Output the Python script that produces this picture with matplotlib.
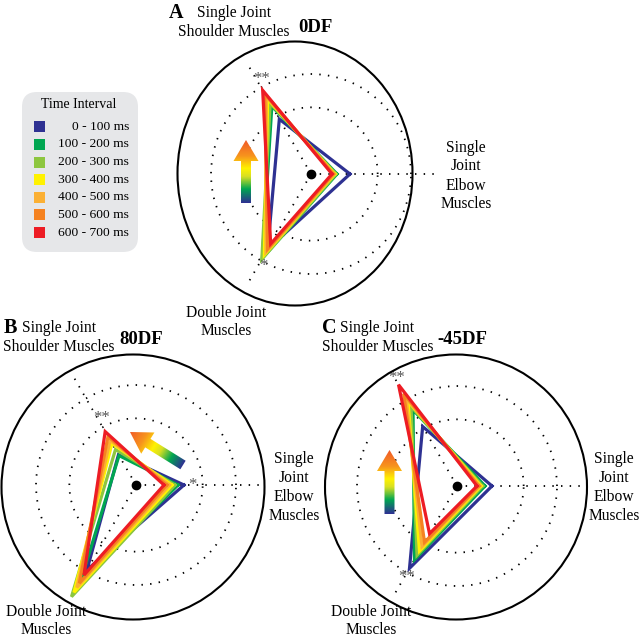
import numpy as np
import matplotlib
matplotlib.use("Agg")
import matplotlib.pyplot as plt
from matplotlib.patches import Ellipse, Polygon, FancyBboxPatch, Rectangle
from matplotlib.colors import LinearSegmentedColormap

plt.rcParams['font.family'] = ['Liberation Serif', 'DejaVu Serif']

# time intervals (legend) and colours
intervals = ['0 - 100 ms', '100 - 200 ms', '200 - 300 ms', '300 - 400 ms',
             '400 - 500 ms', '500 - 600 ms', '600 - 700 ms']
colors = ['#2e3192', '#00a651', '#8dc63f', '#fff200', '#fbb034', '#f58220', '#ed1c24']

# axis directions (deg): elbow, shoulder, double joint
axis_deg = [0, 120, 240]

# panel A : 0DF
a_elbow    = [1.17, 0.78, 0.75, 0.71, 0.69, 0.67, 0.63]
a_shoulder = [1.90, 2.35, 2.45, 2.60, 2.68, 2.78, 2.90]
a_double   = [2.60, 2.92, 2.95, 2.80, 2.70, 2.60, 2.42]
# panel B : 80DF
b_elbow    = [1.44, 1.26, 1.17, 1.08, 1.00, 0.92, 0.84]
b_shoulder = [1.05, 1.02, 1.23, 1.44, 1.55, 1.68, 1.85]
b_double   = [2.94, 3.30, 3.87, 3.72, 3.55, 3.40, 3.12]
# panel C : -45DF
c_elbow    = [1.05, 0.84, 0.77, 0.72, 0.68, 0.65, 0.60]
c_shoulder = [2.06, 2.64, 2.76, 2.94, 3.05, 3.20, 3.51]
c_double   = [2.85, 2.55, 2.40, 2.25, 2.10, 1.95, 1.65]

W, H = 640, 639
UNIT = 33.33   # px per radial unit
RMAX = 3.8
R = RMAX * UNIT

fig = plt.figure(figsize=(6.4, 6.39), dpi=100)


def radar(cx, cy, elbow, shoulder, double, stars):
    ax = fig.add_axes([(cx - R) / W, 1 - (cy + R) / H, 2 * R / W, 2 * R / H],
                      projection='polar')
    ax.patch.set_visible(False)
    ax.spines['polar'].set_visible(False)
    ax.set_rlim(0, RMAX)
    ax.set_thetagrids(axis_deg, labels=['', '', ''])
    ax.set_rgrids([2, 3], labels=['', ''])
    ax.grid(True, color='k', linewidth=1.3, linestyle=(0, (0.8, 4.0)))
    th = np.radians(axis_deg + [axis_deg[0]])
    for i in range(len(colors)):
        r = [elbow[i], shoulder[i], double[i], elbow[i]]
        ax.plot(th, r, color=colors[i], lw=2.3, solid_joinstyle='miter',
                clip_on=False, zorder=3 + i)
    ax.plot(0, 0, 'o', color='k', ms=6, zorder=20)
    for deg, r, s in stars:
        ax.text(np.radians(deg), r, s, color='#555555', fontsize=12,
                ha='center', va='center', zorder=20)
    return ax


radar(311, 174, a_elbow, a_shoulder, a_double,
      [(117.5, 3.2, '**'), (242.5, 3.1, '*')])
radar(136, 485, b_elbow, b_shoulder, b_double,
      [(117.5, 2.25, '**'), (0, 1.70, '*')])
radar(457, 486, c_elbow, c_shoulder, c_double,
      [(119, 3.72, '**'), (241, 3.12, '**')])

# overlay axes in pixel coordinates
ov = fig.add_axes([0, 0, 1, 1])
ov.patch.set_visible(False)
ov.axis('off')

for (ex, ey, ew, eh) in [(295, 173.5, 235, 264), (133, 487, 263, 265), (456, 487, 262, 265)]:
    ov.add_patch(Ellipse((ex, ey), ew, eh, fill=False, ec='k', lw=1.5))

# gradient arrows
cmap = LinearSegmentedColormap.from_list(
    'arrow', [(0, '#2e3192'), (0.22, '#00a651'), (0.42, '#d7df23'),
              (0.55, '#fff200'), (0.75, '#f7941d'), (1.0, '#f15a29')])


def grad_arrow(tail, tip, hl=21, hw=25, bw=10):
    tail = np.array(tail, float)
    tip = np.array(tip, float)
    L = np.hypot(*(tip - tail))
    d = (tip - tail) / L
    n = np.array([-d[1], d[0]])
    local = [(0, -bw / 2), (L - hl, -bw / 2), (L - hl, -hw / 2), (L, 0),
             (L - hl, hw / 2), (L - hl, bw / 2), (0, bw / 2)]
    pts = np.array([tail + u * d + v * n for u, v in local])
    poly = Polygon(pts, closed=True, fc='none', ec='none')
    ov.add_patch(poly)
    x0, y0 = pts.min(axis=0) - 1
    x1, y1 = pts.max(axis=0) + 1
    xs = np.linspace(x0, x1, 120)
    ys = np.linspace(y0, y1, 120)
    X, Y = np.meshgrid(xs, ys)
    t = ((X - tail[0]) * d[0] + (Y - tail[1]) * d[1]) / L
    im = ov.imshow(np.clip(t, 0, 1), cmap=cmap, vmin=0, vmax=1,
                   extent=(x0, x1, y1, y0), origin='upper', aspect='auto',
                   interpolation='bilinear', zorder=5)
    im.set_clip_path(poly)


grad_arrow((246, 203), (246, 140))
grad_arrow((183, 465), (130, 432))
grad_arrow((389.5, 514), (389.5, 450))

# legend box
ov.add_patch(FancyBboxPatch((22, 92), 116, 160,
                            boxstyle='round,pad=0,rounding_size=15',
                            fc='#e6e7e9', ec='none'))
ov.text(79, 105, 'Time Interval', ha='center', va='center', fontsize=10)
for i, (lab, col) in enumerate(zip(intervals, colors)):
    yc = 126.7 + 17.65 * i
    ov.add_patch(Rectangle((34, yc - 5.5), 11, 11, fc=col, ec='none'))
    ov.text(129, yc, lab, ha='right', va='center', fontsize=9.7)

# panel labels and axis names
lab_fs = 11.2
for (lx, ly, letter), (sx, sy), (tx, ty, title), (ex, ey), (dx, dy) in [
        ((176, 13, 'A'), (234, 13), (315, 28, '0DF'), (466, 176), (226, 313)),
        ((10, 328, 'B'), (59, 328), (141.5, 340, '80DF'), (294, 487.5), (46, 612)),
        ((329, 328, 'C'), (377.5, 328), (462.5, 340, '-45DF'), (614, 487.5), (371, 612))]:
    ov.text(lx, ly, letter, ha='center', va='center', fontsize=14.5, fontweight='bold')
    ov.text(sx, sy, 'Single Joint', ha='center', va='center', fontsize=lab_fs)
    ov.text(sx, sy + 19, 'Shoulder Muscles', ha='center', va='center', fontsize=lab_fs)
    ov.text(tx, ty, title, ha='center', va='center', fontsize=13.5, fontweight='bold')
    ov.text(ex, ey, 'Single\nJoint\nElbow\nMuscles', ha='center', va='center',
            fontsize=lab_fs, linespacing=1.25)
    ov.text(dx, dy, 'Double Joint', ha='center', va='center', fontsize=lab_fs)
    ov.text(dx, dy + 18, 'Muscles', ha='center', va='center', fontsize=lab_fs)

ov.set_xlim(0, W)
ov.set_ylim(H, 0)

fig.savefig('out.png', dpi=100)
